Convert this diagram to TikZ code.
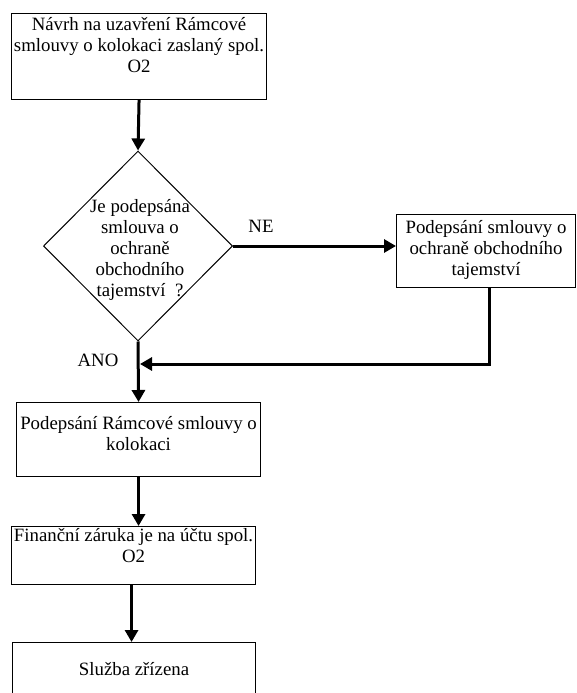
\documentclass[tikz,border=0pt]{standalone}
\usepackage{fontspec}
\setmainfont{Liberation Serif}
\usetikzlibrary{arrows.meta,shapes.geometric}

% centred lines inside a fixed-size box: width, height, gap above first line, text
\newcommand\boxtext[4]{\parbox[t][#2][t]{#1}{\centering\vspace*{#3}\rule{0pt}{14pt}#4}}

\tikzset{
  body/.style={font=\fontsize{18.8}{21}\selectfont},
  stepbox/.style={body, draw, line width=1.1pt, inner sep=0pt, anchor=north west},
  decision/.style={diamond, draw, line width=1pt, inner sep=0pt,
                   minimum width=189pt, minimum height=190pt},
  dtext/.style={body, inner sep=0pt, anchor=base},
  lbl/.style={body, inner sep=0pt, anchor=base},
  flow/.style={line width=3pt, -{Triangle[length=12pt,width=13pt]}}
}

\begin{document}
\begin{tikzpicture}[x=1pt,y=-1pt]
  \clip (0,0) rectangle (576,693);
  \fill[white] (0,0) rectangle (576,693);

  % process steps
  \node[stepbox] (b1) at (11,13)
    {\boxtext{255pt}{86pt}{3pt}{Návrh na uzavření Rámcové\\smlouvy o kolokaci zaslaný spol.\\O2}};
  \node[decision] (dec) at (138,246) {};
  \node[dtext] (dect) at (140,212.5)
    {\parbox[t]{120pt}{\centering Je podepsána\\smlouva o\\ochraně\\obchodního\\tajemství\ \ ?}};
  \node[stepbox] (side) at (396,214)
    {\boxtext{179pt}{73pt}{5pt}{Podepsání smlouvy o\\ochraně obchodního\\tajemství}};
  \node[stepbox] (b2) at (16,402)
    {\boxtext{244pt}{74pt}{13pt}{Podepsání Rámcové smlouvy o\\kolokaci}};
  \node[stepbox] (b3) at (11,526)
    {\boxtext{244pt}{58pt}{1pt}{Finanční záruka je na účtu spol.\\O2}};
  \node[stepbox] (b4) at (12,642)
    {\boxtext{243pt}{60pt}{19pt}{Služba zřízena}};

  % branch labels
  \node[lbl] (ne) at (261,232) {NE};
  \node[lbl] (ano) at (98,366) {ANO};

  \coordinate (join) at (140,364);

  % connectors
  \draw[flow] (b1.south) -- (dec.north);
  \draw[flow] (dec.east) -- (dec.east -| side.west);
  \draw[flow] (dec.south) -- (b2.north);
  \draw[flow] ([xshift=3.5pt]side.south) |- (join);
  \draw[flow] (b2.south) -- (b2.south |- b3.north);
  \draw[flow] ([xshift=-2pt]b3.south) -- ([xshift=-2pt]b3.south |- b4.north);
\end{tikzpicture}
\end{document}
